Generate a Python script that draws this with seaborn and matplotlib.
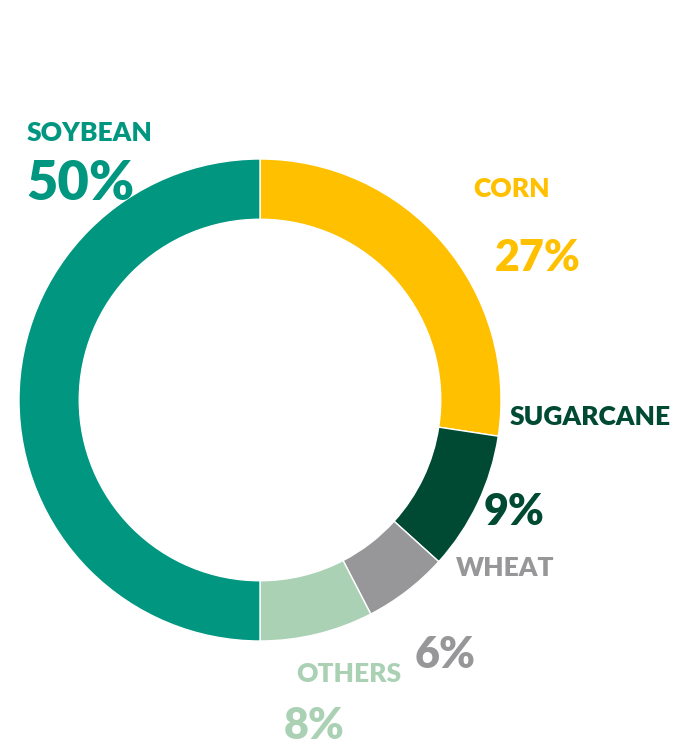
import matplotlib
matplotlib.use("Agg")
import matplotlib.pyplot as plt
import seaborn as sns

# 작물별 비중 (시계방향, 12시부터) - 라벨은 반올림 값
crops = ["CORN", "SUGARCANE", "WHEAT", "OTHERS", "SOYBEAN"]
shares = [27.4, 9.3, 5.7, 7.6, 50.0]
colors = ["#FFC000", "#004A33", "#97979A", "#ABD1B5", "#00967F"]

# 라벨 위치 (픽셀, 위에서부터) - 이름 / 퍼센트
name_pos = {"SOYBEAN": (90, 133), "CORN": (512, 189), "SUGARCANE": (590, 417),
            "WHEAT": (505, 568), "OTHERS": (349, 674)}
pct_pos = {"SOYBEAN": (80, 184), "CORN": (538, 258), "SUGARCANE": (514, 512),
           "WHEAT": (445, 655), "OTHERS": (314, 726)}

sns.set_theme(style="white")
plt.rcParams["font.family"] = ["Lato", "DejaVu Sans"]

W, H = 679, 746
fig = plt.figure(figsize=(W / 100, H / 100), dpi=100)
fig.patch.set_facecolor("white")

# 도넛 위치: 중심 (260, 400), 반지름 241px
cx, cy, r = 260, 400, 241
ax = fig.add_axes([(cx - r) / W, (H - cy - r) / H, 2 * r / W, 2 * r / H])
ax.pie(shares, colors=colors, startangle=90, counterclock=False, radius=1,
       wedgeprops=dict(width=0.25, edgecolor="white", linewidth=1))
ax.set_xlim(-1, 1)
ax.set_ylim(-1, 1)
ax.set_aspect("equal")
ax.axis("off")

for name, val, col in zip(crops, shares, colors):
    x, y = name_pos[name]
    fig.text(x / W, 1 - y / H, name, color=col, fontsize=19, fontweight="heavy",
             ha="center", va="center")
    x, y = pct_pos[name]
    size = 39 if name == "SOYBEAN" else 31
    fig.text(x / W, 1 - y / H, f"{round(val)}%", color=col, fontsize=size, fontweight="heavy",
             ha="center", va="center")

fig.savefig("out.png", dpi=100, facecolor="white")
